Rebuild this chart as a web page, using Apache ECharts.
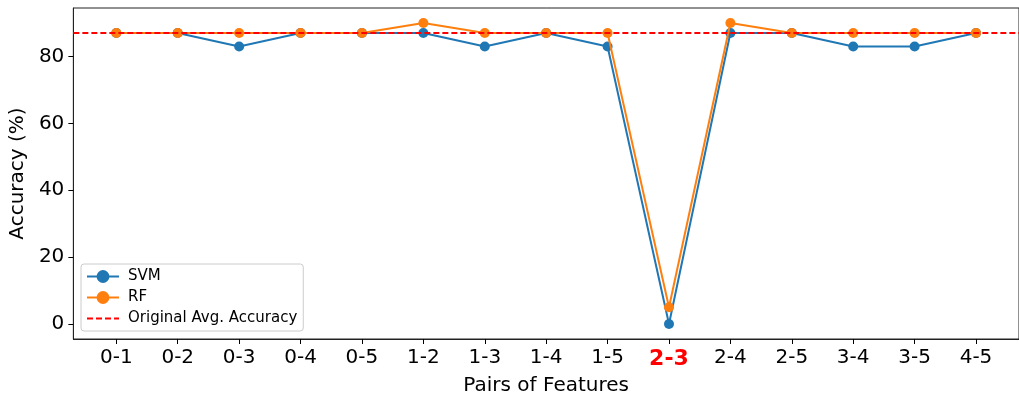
<!DOCTYPE html>
<html><head><meta charset="utf-8">
<script src="https://cdn.jsdelivr.net/npm/echarts@6/dist/echarts.min.js"></script>
<style>html,body{margin:0;padding:0;background:#fff}#c{width:1019px;height:401px}</style>
</head><body><div id="c"></div>
<script>
const categories = ['0-1','0-2','0-3','0-4','0-5','1-2','1-3','1-4','1-5','2-3','2-4','2-5','3-4','3-5','4-5'];
const svm = [87,87,83,87,87,87,83,87,83,0,87,87,83,83,87];
const rf  = [87,87,87,87,87,90,87,87,87,5,90,87,87,87,87];
const originalAvg = 87;
const yTicks = [0,20,40,60,80];
const highlight = '2-3';

const F = 'DejaVu Sans';
const idx = categories.map((_, i) => i);
const chart = echarts.init(document.getElementById('c'));
chart.setOption({
  animation: false,
  backgroundColor: '#fff',
  grid: {left: 73, right: 0, top: 8, bottom: 61, show: true, borderColor: '#222', borderWidth: 1, backgroundColor: 'transparent'},
  legend: {
    left: 81, top: 264, orient: 'vertical',
    backgroundColor: '#fff', borderColor: '#ccc', borderWidth: 1, borderRadius: 3,
    padding: [5, 6, 5, 5], itemGap: 6, itemWidth: 32, itemHeight: 16,
    textStyle: {fontFamily: F, fontSize: 15, color: '#000', padding: [0, 0, 0, 4]},
    data: ['SVM', 'RF', 'Original Avg. Accuracy']
  },
  xAxis: {
    type: 'value', min: -0.7, max: categories.length - 1 + 0.7,
    name: 'Pairs of Features', nameLocation: 'middle', nameGap: 37,
    nameTextStyle: {fontFamily: F, fontSize: 20, color: '#000'},
    axisLine: {onZero: false, lineStyle: {color: '#222', width: 1}},
    axisTick: {show: true, length: 5, customValues: idx, lineStyle: {color: '#000'}},
    splitLine: {show: false},
    axisLabel: {
      customValues: idx, margin: 9,
      fontFamily: F, fontSize: 20, color: '#000',
      formatter: v => { const c = categories[Math.round(v)]; return c === highlight ? '{hl|' + c + '}' : c; },
      rich: {hl: {fontFamily: F, fontSize: 22, fontWeight: 'bold', color: 'red'}}
    }
  },
  yAxis: {
    type: 'value', min: -4.5, max: 94.5,
    name: 'Accuracy (%)', nameLocation: 'middle', nameGap: 38, nameRotate: 90,
    nameTextStyle: {fontFamily: F, fontSize: 20, color: '#000'},
    axisLine: {show: true, onZero: false, lineStyle: {color: '#222', width: 1}},
    axisTick: {show: true, length: 5, customValues: yTicks, lineStyle: {color: '#000'}},
    splitLine: {show: false},
    axisLabel: {customValues: yTicks, margin: 9, fontFamily: F, fontSize: 20, color: '#000'}
  },
  series: [
    {name: 'SVM', type: 'line', data: idx.map(i => [i, svm[i]]), color: '#1f77b4',
     symbol: 'circle', symbolSize: 10, lineStyle: {width: 2}, itemStyle: {color: '#1f77b4'}, z: 2},
    {name: 'RF', type: 'line', data: idx.map(i => [i, rf[i]]), color: '#ff7f0e',
     symbol: 'circle', symbolSize: 10, lineStyle: {width: 2}, itemStyle: {color: '#ff7f0e'}, z: 3},
    {name: 'Original Avg. Accuracy', type: 'line', color: 'red', symbol: 'none', z: 4,
     itemStyle: {opacity: 0},
     data: [[-0.7, originalAvg], [categories.length - 1 + 0.7, originalAvg]],
     lineStyle: {type: [6, 3], width: 2, color: 'red'}}
  ]
});
</script></body></html>
